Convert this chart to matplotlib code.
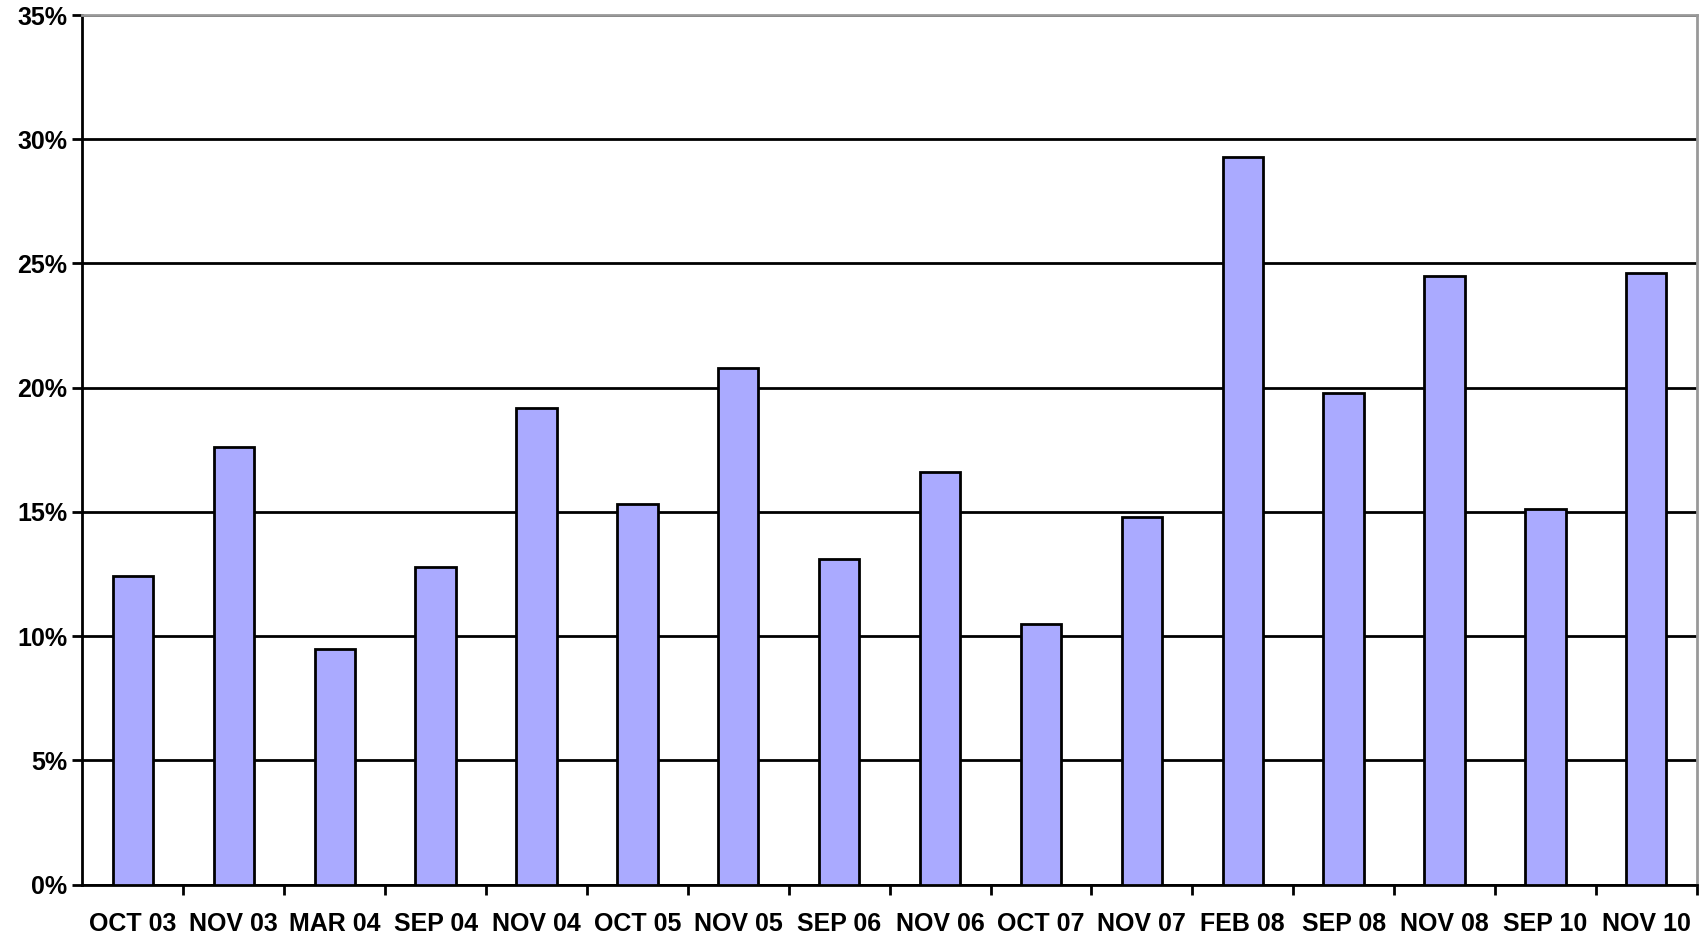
import matplotlib
matplotlib.use('Agg')
import matplotlib.pyplot as plt
from matplotlib.ticker import FixedLocator, FuncFormatter

labels = ['OCT 03', 'NOV 03', 'MAR 04', 'SEP 04', 'NOV 04', 'OCT 05', 'NOV 05', 'SEP 06',
          'NOV 06', 'OCT 07', 'NOV 07', 'FEB 08', 'SEP 08', 'NOV 08', 'SEP 10', 'NOV 10']
values = [12.4, 17.6, 9.5, 12.8, 19.2, 15.3, 20.8, 13.1,
          16.6, 10.5, 14.8, 29.3, 19.8, 24.5, 15.1, 24.6]

plt.rcParams['font.family'] = ['Liberation Sans', 'DejaVu Sans']
fig = plt.figure(figsize=(17.01, 9.41), dpi=100)
ax = fig.add_axes([0.0485, 0.06, 0.949, 0.924])

x = list(range(len(labels)))
ax.bar(x, values, width=0.4, color='#aaaaff', edgecolor='black', linewidth=2, zorder=3)

ax.set_xlim(-0.5, len(labels) - 0.5)
ax.set_ylim(0, 35)
ax.set_yticks(range(0, 36, 5))
ax.yaxis.set_major_formatter(FuncFormatter(lambda v, p: f'{int(v)}%'))
ax.yaxis.grid(True, color='black', linewidth=2, zorder=1)

ax.set_xticks(x)
ax.set_xticklabels(labels)
ax.xaxis.set_minor_locator(FixedLocator([i + 0.5 for i in x]))
ax.tick_params(axis='x', which='major', length=0, pad=20)
ax.tick_params(axis='x', which='minor', length=7, width=2, direction='out')
ax.tick_params(axis='y', length=7, width=2, direction='out', pad=4)
for t in ax.get_xticklabels() + ax.get_yticklabels():
    t.set_fontsize(18)
    t.set_fontweight('bold')

for s in ['left', 'bottom']:
    ax.spines[s].set_linewidth(2)
    ax.spines[s].set_color('black')
for s in ['top', 'right']:
    ax.spines[s].set_linewidth(2)
    ax.spines[s].set_color('#999999')

fig.savefig('out.png', dpi=100)
